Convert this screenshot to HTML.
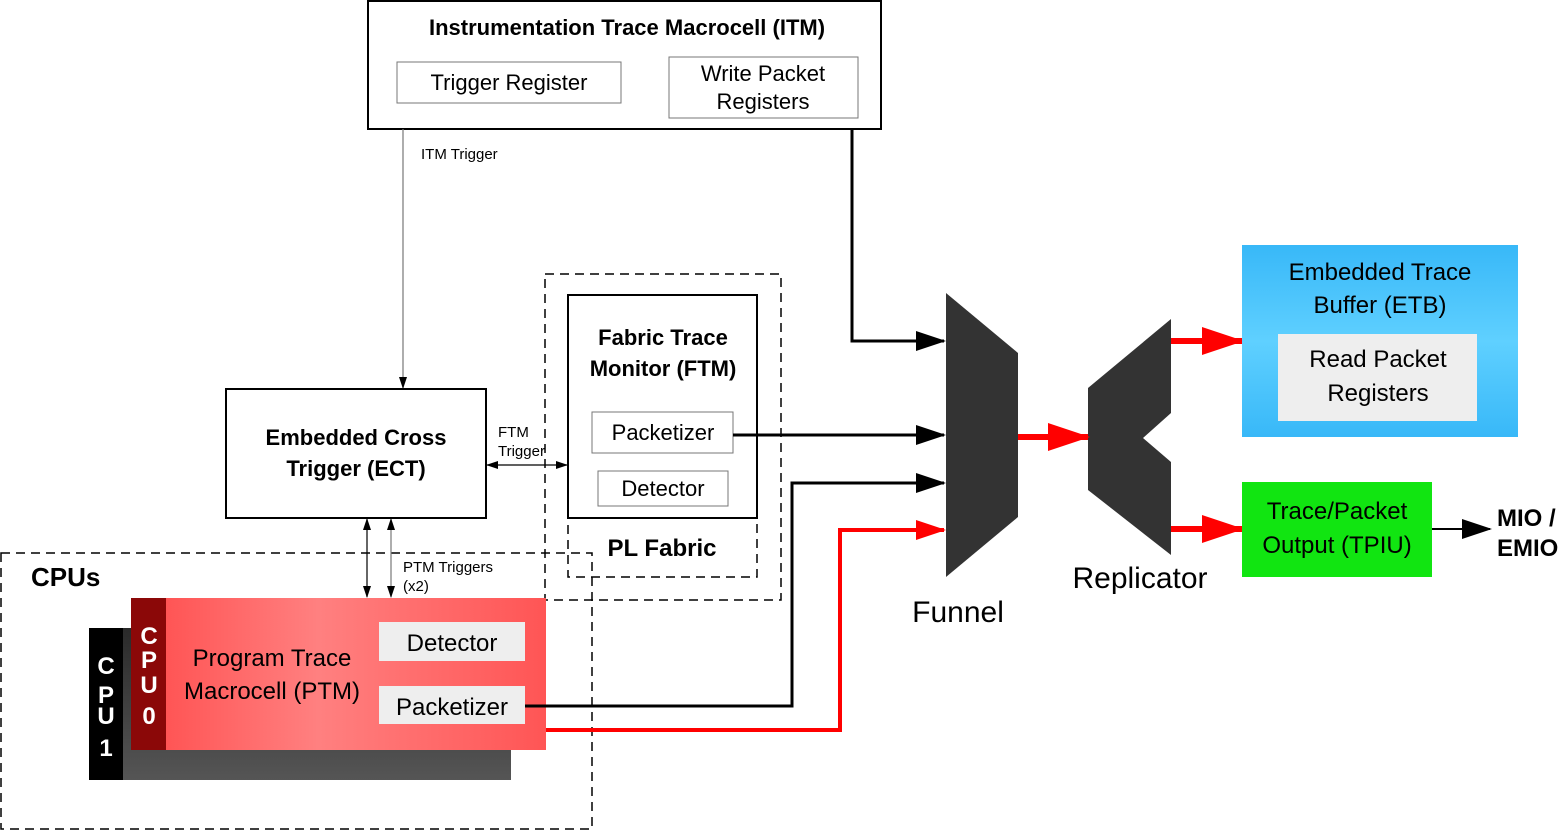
<!DOCTYPE html>
<html><head><meta charset="utf-8"><style>
html,body{margin:0;padding:0;background:#fff;}
svg{display:block;font-family:"Liberation Sans",sans-serif;}
</style></head><body>
<svg width="1561" height="831" viewBox="0 0 1561 831" xmlns="http://www.w3.org/2000/svg">
<defs>
<marker id="ab" markerWidth="12" markerHeight="10" refX="11" refY="5" orient="auto" markerUnits="userSpaceOnUse"><path d="M0,1 L12,5 L0,9 z" fill="#000"/></marker>
<marker id="abs" markerWidth="12" markerHeight="10" refX="11" refY="5" orient="auto-start-reverse" markerUnits="userSpaceOnUse"><path d="M0,1 L12,5 L0,9 z" fill="#000"/></marker>
<marker id="abig" markerWidth="30" markerHeight="20" refX="28" refY="10" orient="auto" markerUnits="userSpaceOnUse"><path d="M0,0 L30,10 L0,20 z" fill="#000"/></marker>
<marker id="rbig" markerWidth="42" markerHeight="28" refX="40" refY="14" orient="auto" markerUnits="userSpaceOnUse"><path d="M0,0 L42,14 L0,28 z" fill="#f00"/></marker>
<marker id="rmid" markerWidth="30" markerHeight="20" refX="28" refY="10" orient="auto" markerUnits="userSpaceOnUse"><path d="M0,0 L30,10 L0,20 z" fill="#f00"/></marker>
<linearGradient id="red" x1="0" y1="0" x2="1" y2="0"><stop offset="0" stop-color="#f55"/><stop offset="0.4" stop-color="#ff8080"/><stop offset="1" stop-color="#f55"/></linearGradient>
<linearGradient id="blue" x1="0" y1="0" x2="0" y2="1"><stop offset="0" stop-color="#38b8f8"/><stop offset="0.5" stop-color="#5fd0ff"/><stop offset="1" stop-color="#38b8f8"/></linearGradient>
<linearGradient id="dark" x1="0" y1="0" x2="0" y2="1"><stop offset="0" stop-color="#2a2a2a"/><stop offset="1" stop-color="#555"/></linearGradient>
</defs>

<rect x="368" y="1" width="513" height="128" fill="#fff" stroke="#000" stroke-width="2"/>
<text x="627" y="35" text-anchor="middle" font-size="22" font-weight="bold">Instrumentation Trace Macrocell (ITM)</text>
<rect x="397" y="62" width="224" height="41" fill="#fff" stroke="#777"/>
<text x="509" y="90" text-anchor="middle" font-size="22">Trigger Register</text>
<rect x="669" y="57" width="189" height="61" fill="#fff" stroke="#777"/>
<text x="763" y="81" text-anchor="middle" font-size="22">Write Packet</text>
<text x="763" y="109" text-anchor="middle" font-size="22">Registers</text>

<line x1="403" y1="129" x2="403" y2="388" stroke="#777" stroke-width="1.2" marker-end="url(#ab)"/>
<text x="421" y="159" font-size="15">ITM Trigger</text>
<polyline points="852,129 852,341 944,341" fill="none" stroke="#000" stroke-width="3" marker-end="url(#abig)"/>

<rect x="226" y="389" width="260" height="129" fill="#fff" stroke="#000" stroke-width="2"/>
<text x="356" y="445" text-anchor="middle" font-size="22" font-weight="bold">Embedded Cross</text>
<text x="356" y="476" text-anchor="middle" font-size="22" font-weight="bold">Trigger (ECT)</text>

<rect x="545" y="274" width="236" height="326" fill="none" stroke="#000" stroke-width="1.5" stroke-dasharray="9,6"/>
<rect x="568" y="295" width="189" height="223" fill="#fff" stroke="#000" stroke-width="2"/>
<rect x="568" y="518" width="189" height="59" fill="none" stroke="#000" stroke-width="1.5" stroke-dasharray="9,6"/>
<text x="663" y="345" text-anchor="middle" font-size="22" font-weight="bold">Fabric Trace</text>
<text x="663" y="376" text-anchor="middle" font-size="22" font-weight="bold">Monitor (FTM)</text>
<rect x="592" y="412" width="141" height="41" fill="#fff" stroke="#777"/>
<text x="663" y="440" text-anchor="middle" font-size="22">Packetizer</text>
<rect x="598" y="471" width="130" height="35" fill="#fff" stroke="#777"/>
<text x="663" y="496" text-anchor="middle" font-size="22">Detector</text>
<text x="662" y="556" text-anchor="middle" font-size="24" font-weight="bold">PL Fabric</text>

<line x1="487" y1="465" x2="567" y2="465" stroke="#000" stroke-width="1.2" marker-start="url(#abs)" marker-end="url(#ab)"/>
<text x="498" y="437" font-size="15">FTM</text>
<text x="498" y="456" font-size="15">Trigger</text>
<line x1="733" y1="435" x2="944" y2="435" stroke="#000" stroke-width="3" marker-end="url(#abig)"/>

<rect x="1" y="553" width="591" height="276" fill="none" stroke="#000" stroke-width="1.5" stroke-dasharray="9,6"/>
<text x="31" y="586" font-size="26" font-weight="bold">CPUs</text>
<line x1="367" y1="519" x2="367" y2="597" stroke="#000" stroke-width="1.2" marker-start="url(#abs)" marker-end="url(#ab)"/>
<line x1="391" y1="519" x2="391" y2="597" stroke="#777" stroke-width="1.2" marker-start="url(#abs)" marker-end="url(#ab)"/>
<text x="403" y="572" font-size="15">PTM Triggers</text>
<text x="403" y="591" font-size="15">(x2)</text>

<rect x="89" y="628" width="422" height="152" fill="url(#dark)"/>
<rect x="89" y="628" width="34" height="152" fill="#000"/>
<g font-size="24" fill="#fff" font-weight="bold" text-anchor="middle">
<text x="106" y="674">C</text><text x="106" y="703">P</text><text x="106" y="724">U</text><text x="106" y="756">1</text>
</g>
<rect x="166" y="598" width="380" height="152" fill="url(#red)"/>
<rect x="131" y="598" width="35" height="152" fill="#8b0808"/>
<g font-size="24" fill="#fff" font-weight="bold" text-anchor="middle">
<text x="149" y="644">C</text><text x="149" y="668">P</text><text x="149" y="693">U</text><text x="149" y="724">0</text>
</g>
<text x="272" y="666" text-anchor="middle" font-size="24">Program Trace</text>
<text x="272" y="699" text-anchor="middle" font-size="24">Macrocell (PTM)</text>
<rect x="379" y="622" width="146" height="39" fill="#eee"/>
<text x="452" y="651" text-anchor="middle" font-size="24">Detector</text>
<rect x="379" y="686" width="146" height="38" fill="#eee"/>
<text x="452" y="715" text-anchor="middle" font-size="24">Packetizer</text>

<polyline points="525,706 792,706 792,483 944,483" fill="none" stroke="#000" stroke-width="3" marker-end="url(#abig)"/>
<polyline points="546,730 840,730 840,530 944,530" fill="none" stroke="#f00" stroke-width="4" marker-end="url(#rmid)"/>

<polygon points="946,293 1018,353 1018,517 946,577" fill="#333"/>
<text x="958" y="622" text-anchor="middle" font-size="30">Funnel</text>
<polygon points="1171,319 1171,413 1143,438 1171,462 1171,555 1088,490 1088,388" fill="#333"/>
<text x="1140" y="588" text-anchor="middle" font-size="30">Replicator</text>
<line x1="1018" y1="437" x2="1088" y2="437" stroke="#f00" stroke-width="6" marker-end="url(#rbig)"/>
<line x1="1171" y1="341" x2="1242" y2="341" stroke="#f00" stroke-width="6" marker-end="url(#rbig)"/>
<line x1="1171" y1="529" x2="1242" y2="529" stroke="#f00" stroke-width="6" marker-end="url(#rbig)"/>

<rect x="1242" y="245" width="276" height="192" fill="url(#blue)"/>
<text x="1380" y="280" text-anchor="middle" font-size="24">Embedded Trace</text>
<text x="1380" y="313" text-anchor="middle" font-size="24">Buffer (ETB)</text>
<rect x="1278" y="334" width="199" height="87" fill="#eee"/>
<text x="1378" y="367" text-anchor="middle" font-size="24">Read Packet</text>
<text x="1378" y="401" text-anchor="middle" font-size="24">Registers</text>

<rect x="1242" y="482" width="190" height="95" fill="#11e511"/>
<text x="1337" y="519" text-anchor="middle" font-size="24">Trace/Packet</text>
<text x="1337" y="553" text-anchor="middle" font-size="24">Output (TPIU)</text>
<line x1="1432" y1="529" x2="1490" y2="529" stroke="#000" stroke-width="2" marker-end="url(#abig)"/>
<text x="1497" y="526" font-size="24" font-weight="bold">MIO /</text>
<text x="1497" y="556" font-size="24" font-weight="bold">EMIO</text>
</svg>
</body></html>
